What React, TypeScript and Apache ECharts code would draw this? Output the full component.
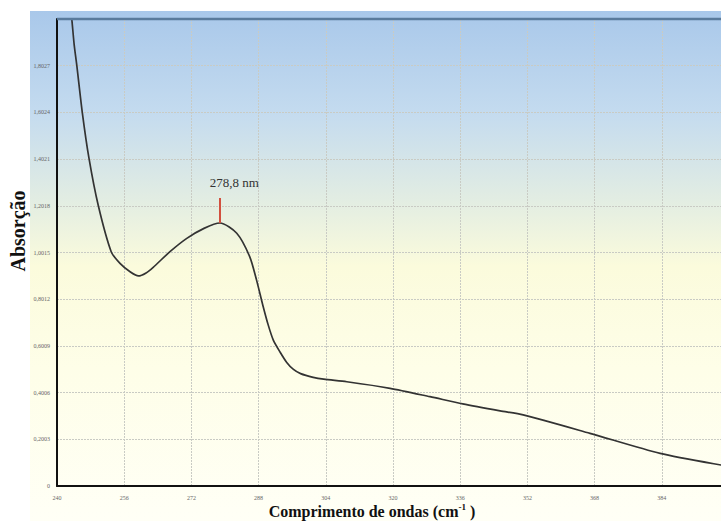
import React, { useEffect, useRef } from "react";
import * as echarts from "echarts";

const wavelengths = [243.2, 243.5, 244.1, 244.7, 246.0, 247.6, 249.8, 252.9, 255.0, 257.4, 259.4, 261.2, 262.9, 266.9, 270.9, 275.0, 278.8, 282.8, 285.9, 287.5, 289.1, 290.3, 291.5, 293.1, 294.7, 296.3, 298.0, 301.0, 303.5, 309.0, 319.3, 328.8, 336.6, 345.5, 351.0, 366.9, 383.6, 398.1, 400.0];
const absorbance = [2.05, 2.007, 1.891, 1.806, 1.605, 1.407, 1.205, 1.005, 0.955, 0.919, 0.901, 0.914, 0.938, 1.005, 1.062, 1.105, 1.128, 1.084, 0.983, 0.884, 0.769, 0.69, 0.626, 0.575, 0.53, 0.5, 0.482, 0.466, 0.458, 0.447, 0.419, 0.383, 0.352, 0.322, 0.305, 0.226, 0.14, 0.09, 0.087];

const xMin = 240;
const xMax = 400;
const xStep = 16;
const yMax = 2.003;
const yStep = 0.2003;

const peakWavelength = 278.8;
const peakValue = 1.128;
const peakMarkTop = 1.235;
const peakLabel = "278,8 nm";
const peakLabelPos = [282.2, 1.3];

const yTitle = "Absorção";
const xTitleMain = "Comprimento de ondas (cm";
const xTitleSup = "-1";
const xTitleEnd = " )";

const CHART_W = 740;

export default function App() {
  const ref = useRef<HTMLDivElement>(null);
  useEffect(() => {
    if (!ref.current) return;
    const chart = echarts.init(ref.current, undefined, { renderer: "svg" });
    const serif = "'Liberation Serif', 'Times New Roman', serif";
    chart.setOption({
      animation: false,
      backgroundColor: "#ffffff",
      graphic: [
        {
          type: "rect",
          z: -10,
          silent: true,
          shape: { x: 30, y: 11, width: CHART_W - 30, height: 510 },
          style: {
            fill: new echarts.graphic.LinearGradient(0, 0, 0, 1, [
              { offset: 0, color: "#a9c8ea" },
              { offset: 0.2, color: "#c4dbef" },
              { offset: 0.38, color: "#e4eee2" },
              { offset: 0.5, color: "#fbfbdc" },
              { offset: 0.7, color: "#fefee8" },
              { offset: 1, color: "#fffff6" },
            ]),
          },
        },
        {
          type: "line",
          z: 10,
          silent: true,
          shape: { x1: 57, y1: 19, x2: CHART_W, y2: 19 },
          style: { stroke: "#5a7b9c", lineWidth: 2.5 },
        },
        {
          type: "text",
          x: 18,
          y: 231,
          rotation: Math.PI / 2,
          style: {
            text: yTitle,
            font: `bold 20px ${serif}`,
            fill: "#111",
            align: "center",
            verticalAlign: "middle",
          },
        },
        {
          type: "text",
          x: 372,
          y: 511,
          style: {
            text: `{b|${xTitleMain}}{s|${xTitleSup}}{b|${xTitleEnd}}`,
            align: "center",
            verticalAlign: "middle",
            rich: {
              b: { fontFamily: serif, fontWeight: "bold", fontSize: 16, fill: "#111", lineHeight: 18 },
              s: { fontFamily: serif, fontWeight: "bold", fontSize: 9, fill: "#111", verticalAlign: "top", lineHeight: 18, padding: [0, 0, 6, 0] },
            },
          },
        },
      ],
      grid: { left: 57, right: CHART_W - 729, top: 19, bottom: 35, show: false },
      xAxis: {
        type: "value",
        min: xMin,
        max: xMax,
        interval: xStep,
        axisLine: { show: true, lineStyle: { color: "#111", width: 2 } },
        axisTick: { show: false },
        axisLabel: { fontSize: 6, color: "#666", margin: 9, fontFamily: serif },
        splitLine: { show: true, lineStyle: { color: "#c9cbc4", type: [2, 1], width: 1 } },
      },
      yAxis: [
        {
          type: "value",
          min: 0,
          max: yMax,
          interval: yStep,
          axisLine: { show: true, lineStyle: { color: "#111", width: 2 } },
          axisTick: { show: false },
          axisLabel: {
            fontSize: 6,
            color: "#666",
            margin: 7,
            fontFamily: serif,
            formatter: (v: number) => (v === 0 ? "0" : v > 2 ? "" : v.toFixed(4).replace(".", ",")),
          },
          splitLine: { show: true, lineStyle: { color: "#c9cbc4", type: [2, 1], width: 1 } },
        },
      ],
      series: [
        {
          type: "line",
          data: wavelengths.map((w, i) => [w, absorbance[i]]),
          showSymbol: false,
          smooth: 0.25,
          clip: true,
          lineStyle: { color: "#333333", width: 1.7 },
          markLine: {
            silent: true,
            symbol: "none",
            label: { show: false },
            lineStyle: { color: "#d2503f", width: 2, type: "solid" },
            data: [[{ coord: [peakWavelength, peakValue] }, { coord: [peakWavelength, peakMarkTop] }]],
          },
          markPoint: {
            silent: true,
            symbol: "circle",
            symbolSize: 0,
            data: [{ coord: peakLabelPos }],
            label: {
              show: true,
              formatter: peakLabel,
              fontFamily: serif,
              fontSize: 13,
              color: "#333",
              position: "inside",
            },
          },
        },
      ],
    });
    return () => chart.dispose();
  }, []);
  return (
    <div style={{ position: "absolute", left: 0, top: 0, width: 721, height: 521, overflow: "hidden" }}>
      <div ref={ref} style={{ width: CHART_W, height: 521 }} />
    </div>
  );
}
